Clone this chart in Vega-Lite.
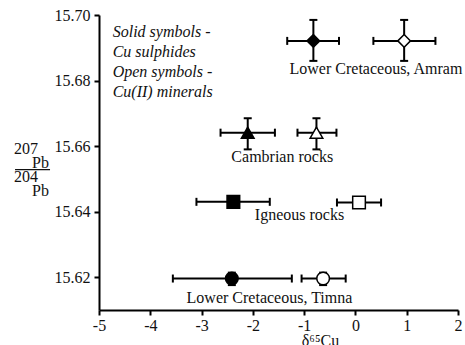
{
  "$schema": "https://vega.github.io/schema/vega-lite/v6.json",
  "width": 359,
  "height": 295,
  "autosize": {"type": "none"},
  "padding": {"left": 99, "top": 15, "right": 7, "bottom": 35},
  "background": "white",
  "config": {
    "font": "Liberation Serif",
    "view": {"stroke": null},
    "text": {"font": "Liberation Serif"},
    "axis": {
      "domainColor": "black", "domainWidth": 2, "tickColor": "black", "tickWidth": 2, "tickSize": 5,
      "labelFont": "Liberation Serif", "labelFontSize": 16, "labelColor": "#111",
      "titleFont": "Liberation Serif", "titleFontSize": 16, "titleFontWeight": "normal", "titleColor": "#111",
      "grid": false
    }
  },
  "data": {"values": [
    {"group": "Amram", "kind": "solid", "d65": -0.82, "d65_lo": -1.33, "d65_hi": -0.32, "pb": 15.6921, "pb_lo": 15.686, "pb_hi": 15.6985},
    {"group": "Amram", "kind": "open", "d65": 0.95, "d65_lo": 0.35, "d65_hi": 1.56, "pb": 15.6921, "pb_lo": 15.686, "pb_hi": 15.6985},
    {"group": "Cambrian", "kind": "solid", "d65": -2.10, "d65_lo": -2.63, "d65_hi": -1.57, "pb": 15.6641, "pb_lo": 15.659, "pb_hi": 15.6685},
    {"group": "Cambrian", "kind": "open", "d65": -0.76, "d65_lo": -1.13, "d65_hi": -0.37, "pb": 15.6641, "pb_lo": 15.659, "pb_hi": 15.6685},
    {"group": "Igneous", "kind": "solid", "d65": -2.38, "d65_lo": -3.10, "d65_hi": -1.67, "pb": 15.643, "pb_lo": 15.643, "pb_hi": 15.643},
    {"group": "Igneous", "kind": "open", "d65": 0.07, "d65_lo": -0.36, "d65_hi": 0.50, "pb": 15.6428, "pb_lo": 15.6428, "pb_hi": 15.6428},
    {"group": "Timna", "kind": "solid", "d65": -2.41, "d65_lo": -3.56, "d65_hi": -1.24, "pb": 15.6196, "pb_lo": 15.6176, "pb_hi": 15.6214},
    {"group": "Timna", "kind": "open", "d65": -0.63, "d65_lo": -1.05, "d65_hi": -0.19, "pb": 15.6196, "pb_lo": 15.6176, "pb_hi": 15.6214}
  ]},
  "layer": [
    {
      "mark": {"type": "rule", "color": "black", "strokeWidth": 2},
      "encoding": {
        "x": {"field": "d65_lo", "type": "quantitative", "scale": {"domain": [-5, 2], "nice": false, "zero": false},
          "axis": {"values": [-5, -4, -3, -2, -1, 0, 1, 2], "labelExpr": "datum.value + ''", "labelPadding": 2, "labelFlush": false,
            "title": "δ⁶⁵Cu", "titleX": 221, "titleY": 35, "titleAlign": "center", "titleBaseline": "alphabetic"}},
        "x2": {"field": "d65_hi"},
        "y": {"field": "pb", "type": "quantitative", "scale": {"domain": [15.61, 15.70], "nice": false, "zero": false},
          "axis": {"values": [15.62, 15.64, 15.66, 15.68, 15.70], "format": ".2f", "labelPadding": 4, "title": null}}
      }
    },
    {
      "mark": {"type": "rule", "color": "black", "strokeWidth": 2},
      "encoding": {
        "x": {"field": "d65", "type": "quantitative"},
        "y": {"field": "pb_lo", "type": "quantitative"},
        "y2": {"field": "pb_hi"}
      }
    },
    {
      "mark": {"type": "tick", "orient": "vertical", "color": "black", "size": 8, "thickness": 2, "opacity": 1},
      "encoding": {"x": {"field": "d65_lo", "type": "quantitative"}, "y": {"field": "pb", "type": "quantitative"}}
    },
    {
      "mark": {"type": "tick", "orient": "vertical", "color": "black", "size": 8, "thickness": 2, "opacity": 1},
      "encoding": {"x": {"field": "d65_hi", "type": "quantitative"}, "y": {"field": "pb", "type": "quantitative"}}
    },
    {
      "mark": {"type": "tick", "orient": "horizontal", "color": "black", "size": 8, "thickness": 2, "opacity": 1},
      "encoding": {"x": {"field": "d65", "type": "quantitative"}, "y": {"field": "pb_lo", "type": "quantitative"}}
    },
    {
      "mark": {"type": "tick", "orient": "horizontal", "color": "black", "size": 8, "thickness": 2, "opacity": 1},
      "encoding": {"x": {"field": "d65", "type": "quantitative"}, "y": {"field": "pb_hi", "type": "quantitative"}}
    },
    {
      "mark": {"type": "point", "filled": true, "stroke": "black", "strokeWidth": 1.5, "opacity": 1, "size": 160},
      "encoding": {
        "x": {"field": "d65", "type": "quantitative"},
        "y": {"field": "pb", "type": "quantitative"},
        "shape": {"field": "group", "type": "nominal", "scale": {"domain": ["Amram", "Cambrian", "Igneous", "Timna"], "range": ["diamond", "triangle-up", "square", "circle"]}, "legend": null},
        "fill": {"field": "kind", "type": "nominal", "scale": {"domain": ["solid", "open"], "range": ["black", "white"]}, "legend": null}
      }
    },
    {
      "data": {"values": [
        {"label": "Lower Cretaceous, Amram", "lx": 0.40, "ly": 15.682},
        {"label": "Cambrian rocks", "lx": -1.427, "ly": 15.6552},
        {"label": "Igneous rocks", "lx": -1.09, "ly": 15.6376},
        {"label": "Lower Cretaceous, Timna", "lx": -1.676, "ly": 15.612}
      ]},
      "mark": {"type": "text", "font": "Liberation Serif", "fontSize": 16, "color": "#111", "align": "center", "baseline": "alphabetic"},
      "encoding": {
        "x": {"field": "lx", "type": "quantitative"},
        "y": {"field": "ly", "type": "quantitative"},
        "text": {"field": "label"}
      }
    },
    {
      "data": {"values": [
        {"part": "207", "tx": -6.657, "ty": 15.65756},
        {"part": "Pb", "tx": -6.306, "ty": 15.65328},
        {"part": "204", "tx": -6.657, "ty": 15.64901},
        {"part": "Pb", "tx": -6.306, "ty": 15.64473}
      ]},
      "mark": {"type": "text", "font": "Liberation Serif", "fontSize": 16, "color": "#111", "align": "left", "baseline": "alphabetic", "clip": false},
      "encoding": {
        "x": {"field": "tx", "type": "quantitative"},
        "y": {"field": "ty", "type": "quantitative"},
        "text": {"field": "part"}
      }
    },
    {
      "data": {"values": [{"bx": -6.637, "bx2": -5.955, "by": 15.65282}]},
      "mark": {"type": "rule", "color": "#111", "strokeWidth": 1.3, "clip": false},
      "encoding": {
        "x": {"field": "bx", "type": "quantitative"},
        "x2": {"field": "bx2"},
        "y": {"field": "by", "type": "quantitative"}
      }
    },
    {
      "data": {"values": [{"nx": -4.733, "ny": 15.6934}]},
      "mark": {"type": "text", "font": "Liberation Serif", "fontSize": 16, "fontStyle": "italic", "color": "#111", "align": "left", "baseline": "alphabetic", "lineHeight": 20,
        "text": ["Solid symbols -", "Cu sulphides", "Open symbols -", "Cu(II) minerals"]},
      "encoding": {
        "x": {"field": "nx", "type": "quantitative"},
        "y": {"field": "ny", "type": "quantitative"}
      }
    }
  ]
}
